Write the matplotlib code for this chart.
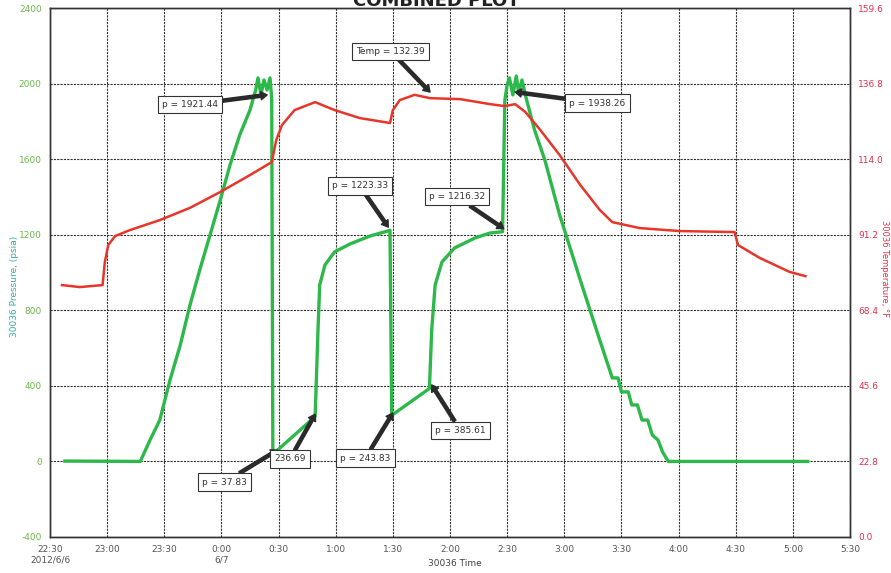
import numpy as np
import matplotlib
matplotlib.use("Agg")
import matplotlib.pyplot as plt

# time in hours since 0:00 on 2012/6/6 (values > 24 are on 6/7)
press_t = [22.63, 23.29, 23.375, 23.46, 23.55, 23.64, 23.725, 23.81, 23.90, 23.99,
           24.075, 24.16, 24.25, 24.30, 24.32, 24.346, 24.372, 24.40, 24.425, 24.44,
           24.45, 24.82, 24.845, 24.86, 24.906, 24.99, 25.125, 25.30, 25.475,
           25.49, 25.82, 25.84, 25.87, 25.93, 26.04, 26.22, 26.35, 26.46,
           26.48, 26.50, 26.52, 26.55, 26.58, 26.60, 26.63, 26.66, 26.74, 26.83,
           26.96, 27.14, 27.31, 27.42, 27.47, 27.50, 27.56, 27.59, 27.64, 27.68,
           27.73, 27.77, 27.82, 27.86, 27.91, 29.13]
press_p = [2, 0, 113, 218, 431, 616, 828, 1013, 1198, 1384,
           1569, 1728, 1860, 1966, 2030, 1940, 2019, 1966, 2030, 1921,
           38, 237, 696, 934, 1040, 1109, 1151, 1193, 1223,
           244, 386, 696, 934, 1056, 1130, 1183, 1209, 1216,
           1913, 1992, 2030, 1940, 2040, 1955, 2019, 1938, 1754, 1595,
           1304, 960, 643, 442, 442, 368, 368, 299, 299, 219,
           219, 140, 113, 50, 0, 0]

temp_t = [22.605, 22.76, 22.96, 22.98, 23.01, 23.07, 23.2, 23.46, 23.725, 23.99,
          24.25, 24.44, 24.48, 24.53, 24.64, 24.82, 24.99, 25.21, 25.475, 25.50,
          25.56, 25.69, 25.825, 26.09, 26.35, 26.48, 26.57, 26.66, 26.79, 26.96,
          27.14, 27.31, 27.42, 27.66, 28.01, 28.49, 28.52, 28.71, 28.97, 29.11]
temp_T = [76.0, 75.4, 76.0, 83.0, 88.1, 90.8, 92.6, 95.6, 99.3, 104.1,
          109.2, 113.1, 119.8, 124.3, 128.8, 131.2, 128.8, 126.4, 124.9, 128.8,
          131.8, 133.4, 132.4, 132.1, 130.6, 130.0, 130.6, 128.2, 122.8, 115.2,
          106.2, 98.7, 95.0, 93.2, 92.3, 92.0, 88.1, 84.2, 80.0, 78.7]

x_ticks = [22.5, 23.0, 23.5, 24.0, 24.5, 25.0, 25.5, 26.0, 26.5, 27.0, 27.5, 28.0, 28.5, 29.0, 29.5]
x_labels = ["22:30\n2012/6/6", "23:00", "23:30", "0:00\n6/7", "0:30", "1:00", "1:30", "2:00",
            "2:30", "3:00", "3:30", "4:00", "4:30", "5:00", "5:30"]
p_ticks = [-400, 0, 400, 800, 1200, 1600, 2000, 2400]
t_ticks = [0.0, 22.8, 45.6, 68.4, 91.2, 114.0, 136.8, 159.6]

# annotations: text, box centre (t, p), arrow tip (t, p)
notes = [
    ("p = 1921.44", (23.725, 1887), (24.40, 1940)),
    ("Temp = 132.39", (25.48, 2172), (25.825, 1955)),
    ("p = 1223.33", (25.21, 1458), (25.46, 1240)),
    ("p = 1216.32", (26.06, 1400), (26.47, 1232)),
    ("p = 1938.26", (27.29, 1897), (26.57, 1955)),
    ("p = 37.83", (24.03, -109), (24.49, 60)),
    ("236.69", (24.60, 13), (24.82, 250)),
    ("p = 243.83", (25.26, 18), (25.50, 256)),
    ("p = 385.61", (26.09, 166), (25.84, 405)),
]

green = "#2db84a"
red = "#e8352a"

fig = plt.figure(figsize=(8.91, 5.73), dpi=100)
ax = fig.add_axes([50 / 891, 36 / 573, 800 / 891, 529 / 573])
ax2 = ax.twinx()

ax.plot(press_t, press_p, color=green, lw=2.4, zorder=3)
ax2.plot(temp_t, temp_T, color=red, lw=1.8, zorder=3)

ax.set_xlim(22.5, 29.5)
ax.set_ylim(-400, 2400)
ax2.set_ylim(0, 159.6)
ax.set_xticks(x_ticks)
ax.set_xticklabels(x_labels, fontsize=6.5, color="#555")
ax.set_yticks(p_ticks)
ax.set_yticklabels([str(v) for v in p_ticks], fontsize=6.5, color="#6bb84a")
ax2.set_yticks(t_ticks)
ax2.set_yticklabels(["%.1f" % v for v in t_ticks], fontsize=6.5, color="#e0304a")
ax.tick_params(length=0, pad=6)
ax2.tick_params(length=0, pad=6)
for a in (ax, ax2):
    for s in a.spines.values():
        s.set_color("#333")
        s.set_linewidth(1.0)
ax.grid(True, color="#333", linestyle=(0, (2, 1)), lw=0.8)

fig.text(15 / 891, 0.5, "30036 Pressure, (psia)", fontsize=6.5, color="#3aa8a0",
         rotation=90, ha="center", va="center")
fig.text(885 / 891, 1 - 268 / 573, "30036 Temperature, \u00b0F", fontsize=6, color="#e0304a",
         rotation=270, ha="center", va="center")
fig.text(455 / 891, 1 - 564 / 573, "30036 Time", fontsize=6.5, color="#444",
         ha="center", va="center")

fig.text(0.49, 0.998, "COMBINED PLOT", ha="center", va="center", fontsize=13, weight="bold", color="#222")

for txt, xy_box, xy_tip in notes:
    ax.annotate(txt, xy=xy_tip, xytext=xy_box, fontsize=6.5, color="#333",
                ha="center", va="center", zorder=5,
                bbox=dict(boxstyle="square,pad=0.45", fc="white", ec="#333", lw=0.8),
                arrowprops=dict(arrowstyle="simple,head_width=0.9,head_length=0.7,tail_width=0.35",
                                fc="#2a2a2a", ec="#2a2a2a", shrinkA=0, shrinkB=0))

fig.savefig("out.png", dpi=100)
